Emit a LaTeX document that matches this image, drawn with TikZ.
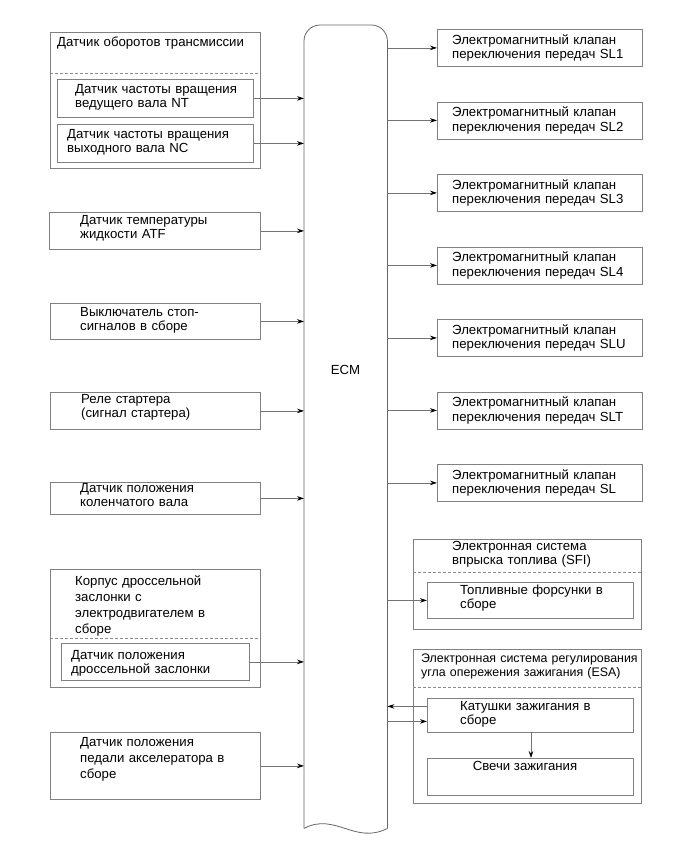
\documentclass[tikz,border=0pt]{standalone}
\usepackage{fontspec}
\setmainfont{Liberation Sans}
\usetikzlibrary{arrows.meta}
\begin{document}
\begin{tikzpicture}[x=1pt,y=-1pt,
  boxst/.style={draw=black!50, line width=0.8pt, inner sep=0pt, anchor=north west},
  txt/.style={anchor=base west, inner sep=0pt, align=left, text width=#1, font=\fontsize{13.2}{14.5}\selectfont},
  txt/.default=185pt,
  sep/.style={draw=black!45, dash pattern=on 3pt off 2pt, line width=0.6pt},
  arr/.style={draw=black!55, line width=0.7pt, -{Stealth[length=7pt,width=4.5pt,color=black]}},
  ecmline/.style={draw=black!60, line width=0.8pt},
]
\useasboundingbox (0,0) rectangle (690,855);

% ECM
\node[inner sep=0pt, minimum width=83, minimum height=803, anchor=north west] (ecm) at (304,25) {};
\draw[ecmline, rounded corners=16pt] (ecm.south west) -- (ecm.north west) -- (ecm.north east) -- (ecm.south east);
\draw[ecmline] (ecm.south west) .. controls (335,812) and (355,845) .. (ecm.south east);
\node[inner sep=0pt, font=\fontsize{13.2}{14.5}\selectfont] (ecmlabel) at (345.5,370) {ECM};

% ---------- left side ----------
\node[boxst, minimum width=210, minimum height=136] (g1) at (50,32) {};
\node[txt=200pt] (g1t) at (57,46) {Датчик оборотов трансмиссии};
\draw[sep] (50,73) -- (260,73);
\node[boxst, minimum width=196, minimum height=38] (nt) at (57,79) {};
\node[txt=175pt] (ntt) at (75,93) {Датчик частоты вращения\\ведущего вала NT};
\node[boxst, minimum width=196, minimum height=38] (nc) at (57,124) {};
\node[txt] (nct) at (67,138) {Датчик частоты вращения\\выходного вала NC};

\node[boxst, minimum width=211, minimum height=37] (atf) at (49,212) {};
\node[txt] (atft) at (80,224) {Датчик температуры\\жидкости ATF};

\node[boxst, minimum width=210, minimum height=36] (stop) at (50,303) {};
\node[txt] (stopt) at (80,316) {Выключатель стоп-\\сигналов в сборе};

\node[boxst, minimum width=210, minimum height=37] (rel) at (50,392) {};
\node[txt] (relt) at (81,403) {Реле стартера\\(сигнал стартера)};

\node[boxst, minimum width=210, minimum height=32] (crk) at (50,482) {};
\node[txt] (crkt) at (80,492) {Датчик положения\\коленчатого вала};

\node[boxst, minimum width=210, minimum height=118] (thr) at (50,569) {};
\node[txt, font=\fontsize{13.2}{16}\selectfont] (thrt) at (75,585) {Корпус дроссельной\\заслонки с\\электродвигателем в\\сборе};
\draw[sep] (50,638) -- (260,638);
\node[boxst, minimum width=188, minimum height=37] (tps) at (61,643) {};
\node[txt=175pt] (tpst) at (71,659) {Датчик положения\\дроссельной заслонки};

\node[boxst, minimum width=210, minimum height=67] (acc) at (50,732) {};
\node[txt, font=\fontsize{13.2}{16}\selectfont] (acct) at (80,746) {Датчик положения\\педали акселератора в\\сборе};

\foreach \b in {nt,nc,atf,stop,rel,crk,tps,acc}
  \draw[arr] (\b.east) -- (\b.east -| ecm.west);

% ---------- right side ----------
\foreach \n/\lab [count=\k from 0] in {sl1/SL1,sl2/SL2,sl3/SL3,sl4/SL4,slu/SLU,slt/SLT,sl/SL} {
  \node[boxst, minimum width=205, minimum height=37] (\n) at (437,29+72.5*\k) {};
  \node[txt] (\n t) at (452,44+72.5*\k) {Электромагнитный клапан\\переключения передач \lab};
  \draw[arr] (\n.west -| ecm.east) -- (\n.west);
}

\node[boxst, minimum width=228, minimum height=90] (sfi) at (413,539) {};
\node[txt] (sfit) at (452,550) {Электронная система\\впрыска топлива (SFI)};
\draw[sep] (413,572) -- (641,572);
\node[boxst, minimum width=206, minimum height=36] (inj) at (427,582) {};
\node[txt] (injt) at (460,594) {Топливные форсунки в\\сборе};
\draw[arr] (inj.west -| ecm.east) -- (inj.west);

\node[boxst, minimum width=228, minimum height=154] (esa) at (413,649) {};
\node[txt=218pt, font=\fontsize{12.4}{14.5}\selectfont] (esat) at (421,662) {Электронная система регулирования\\угла опережения зажигания (ESA)};
\draw[sep] (413,687) -- (641,687);
\node[boxst, minimum width=206, minimum height=34] (coil) at (427,698) {};
\node[txt] (coilt) at (460,710) {Катушки зажигания в\\сборе};
\node[boxst, minimum width=206, minimum height=37] (plug) at (427,758) {};
\node[inner sep=0pt, anchor=base, font=\fontsize{13.2}{14.5}\selectfont] (plugt) at (525,770) {Свечи зажигания};

\draw[arr] ([yshift=9pt]coil.west) -- ([yshift=9pt]coil.west -| ecm.east);
\draw[arr] ([yshift=-6pt]coil.west -| ecm.east) -- ([yshift=-6pt]coil.west);
\draw[arr] (coil.south -| 531,0) -- (plug.north -| 531,0);
\end{tikzpicture}
\end{document}
